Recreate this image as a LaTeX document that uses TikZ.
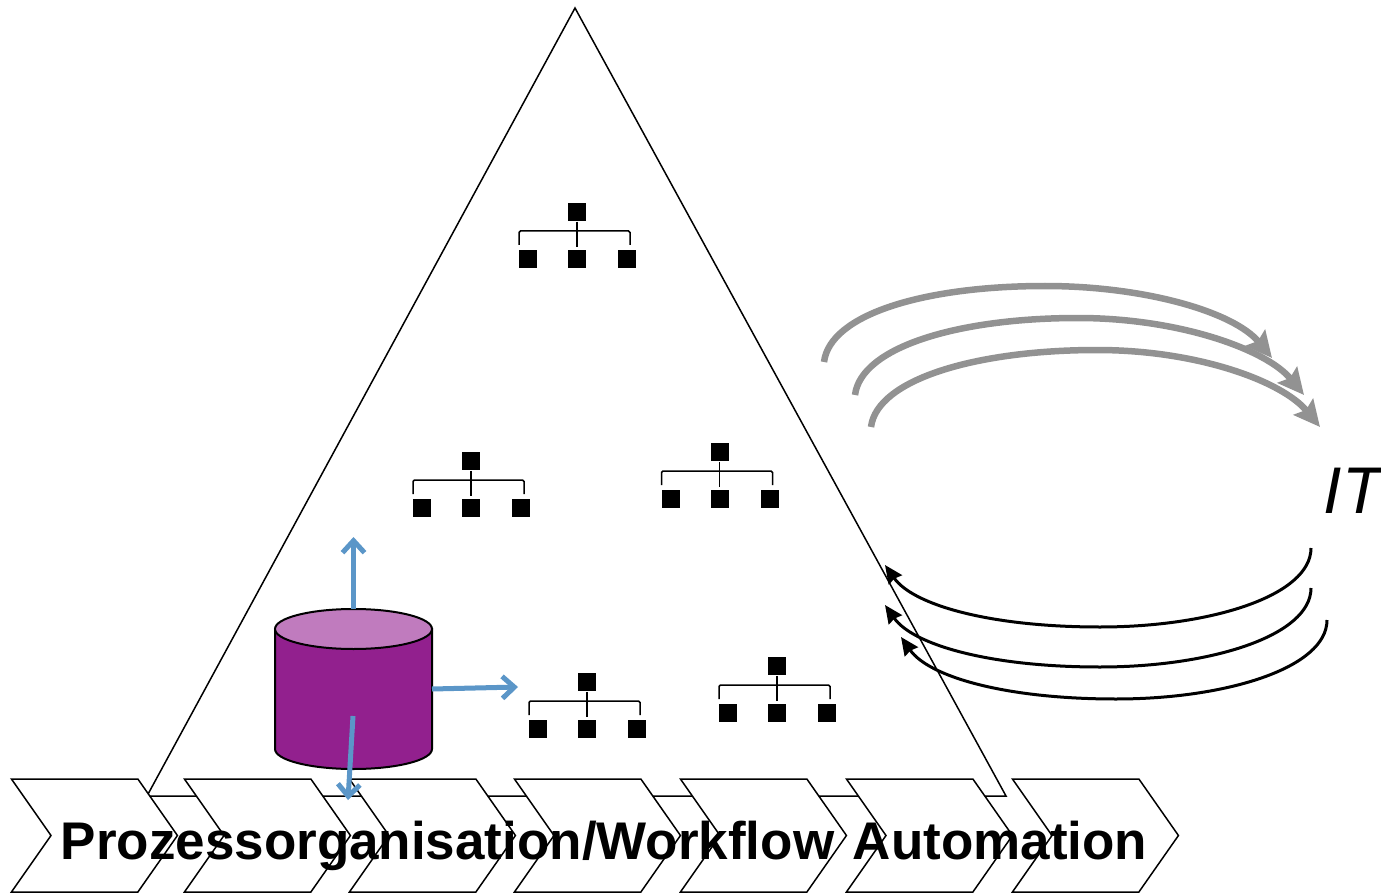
\documentclass[tikz,border=0pt]{standalone}
\usepackage{fontspec}
\setmainfont{Liberation Sans}
\usetikzlibrary{arrows.meta,shapes.symbols}
\definecolor{dbbody}{HTML}{92208E}
\definecolor{dbtop}{HTML}{C07BBE}
\definecolor{dbarrow}{HTML}{5B96C8}
\definecolor{itgray}{HTML}{929292}

\begin{document}
\begin{tikzpicture}[x=1pt,y=-1pt,line width=1.5pt]
   \tikzstyle{orgbox}=[draw=none,fill=black,minimum size=18pt,inner sep=0pt]
   \tikzstyle{chevron}=[draw,fill=white,signal,signal to=east,signal from=west,signal pointer angle=110,minimum width=166pt,minimum height=113pt,inner sep=0pt,outer sep=0pt,anchor=west]
   \tikzstyle{flowarrow}=[dbarrow,line width=5pt,-{Straight Barb[length=12pt,width=22pt,line width=5pt]}]
   \tikzstyle{itout}=[itgray,line width=6.5pt,-{Stealth[length=26pt,width=25pt,inset=4pt]}]
   \tikzstyle{itin}=[black,line width=3pt,-{Stealth[length=18pt,width=16pt,inset=1.5pt]}]
   \tikzstyle{chainlabel}=[anchor=base west,inner sep=0pt,font=\fontsize{53}{60}\selectfont\bfseries]
   \useasboundingbox (0,0) rectangle (1381,893);

   % pyramid
   \coordinate (apex) at (575,8);
   \coordinate (baseR) at (1006,796);
   \coordinate (baseL) at (147,796);
   \draw (apex) -- (baseR) -- (baseL) -- cycle;

   % org charts
   \foreach \n/\x/\y in {a/577/212,b/471/461,c/719.5/452,d/587/682,e/777/666} {
     \node[orgbox] (\n top) at (\x,\y) {};
     \node[orgbox] (\n left) at (\x-49,\y+47) {};
     \node[orgbox] (\n mid) at (\x,\y+47) {};
     \node[orgbox] (\n right) at (\x+50,\y+47) {};
     \coordinate (\n L) at (\x-58,\y+33);
     \coordinate (\n R) at (\x+53,\y+33);
     \draw (\n top) -- (\x,\y+35);
     \draw[rounded corners=1.5pt] (\n L) |- (\x,\y+19) -| (\n R);
   }

   % database
   \node[minimum width=157pt,minimum height=160pt,inner sep=0pt,outer sep=0pt] (db) at (353.5,689) {};
   \draw[line width=2pt,fill=dbbody] (275,629) -- (275,749) .. controls (275,760) and (310,769) .. (db.south) .. controls (397,769) and (432,760) .. (432,749) -- (432,629) -- cycle;
   \draw[line width=2pt,fill=dbtop] (353.5,629) ellipse [x radius=78.5pt,y radius=20pt];
   \coordinate (upEnd) at (353.5,537);
   \coordinate (rightEnd) at (518,687);
   \coordinate (downStart) at (353,716);
   \coordinate (downEnd) at (348,800);

   % process chain
   \foreach \n/\x in {s1/11,s2/184,s3/349,s4/514,s5/680,s6/846,s7/1012} {
     \node[chevron] (\n) at (\x+40,835.5) {};
   }
   \draw[flowarrow] (db.north) -- (upEnd);
   \draw[flowarrow] (db.east) -- (rightEnd);
   \draw[flowarrow] (downStart) -- (downEnd);

   % outgoing to IT
   \foreach \n/\sx/\sy/\px/\py/\ex/\ey in {g1/824/362/1045/286/1272/358,g2/855/395/1078/318/1304/395,g3/871/427/1097/350/1320/427} {
     \coordinate (\n s) at (\sx,\sy);
     \coordinate (\n p) at (\px,\py);
     \coordinate (\n e) at (\ex,\ey);
     \draw[itout] (\n s) .. controls +(6,-48) and +(-120,0) .. (\n p) .. controls +(100,0) and +(-38,-46) .. (\n e);
   }

   % coming back from IT
   \foreach \n/\sx/\sy/\px/\py/\ex/\ey in {k1/1311/548/1100/627/885/565,k2/1311/588/1100/667/885/605,k3/1327/620/1116/699/901/637} {
     \coordinate (\n s) at (\sx,\sy);
     \coordinate (\n p) at (\px,\py);
     \coordinate (\n e) at (\ex,\ey);
     \draw[itin] (\n s) .. controls +(0,48) and +(110,0) .. (\n p) .. controls +(-110,0) and +(28,40) .. (\n e);
   }

   % labels
   \node[chainlabel] (orgLabel) at (60,859) {Prozessorganisation/Workflow};
   \node[chainlabel] (autoLabel) at (852,859) {Automation};
   \node[anchor=base west,inner sep=0pt,font=\fontsize{66}{72}\selectfont\itshape] (itLabel) at (1323,513) {IT};
\end{tikzpicture}
\end{document}
